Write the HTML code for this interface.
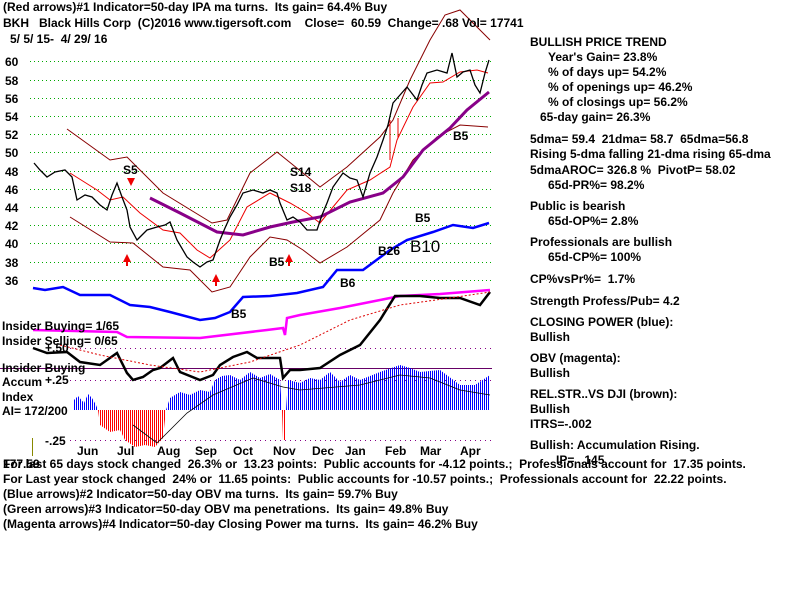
<!DOCTYPE html><html><head><style>
body{margin:0;background:#fff;width:800px;height:600px;overflow:hidden;font-family:"Liberation Sans",sans-serif;}
svg text{font-family:"Liberation Sans",sans-serif;font-size:12px;font-weight:bold;fill:#000;white-space:pre}
</style></head><body>
<svg width="800" height="600" xmlns="http://www.w3.org/2000/svg" xml:space="preserve">
<defs>
<pattern id="pb" x="0" y="0" width="2" height="4" patternUnits="userSpaceOnUse"><rect x="0" y="0" width="1" height="4" fill="#00f"/></pattern>
<pattern id="pr" x="0" y="0" width="2" height="4" patternUnits="userSpaceOnUse"><rect x="0" y="0" width="1" height="4" fill="#f00"/></pattern>
</defs>
<g stroke="#0a0" stroke-dasharray="1,3" stroke-width="1">
<line x1="30" x2="492" y1="61.5" y2="61.5"/><line x1="30" x2="492" y1="80.5" y2="80.5"/><line x1="30" x2="492" y1="98.5" y2="98.5"/><line x1="30" x2="492" y1="116.5" y2="116.5"/><line x1="30" x2="492" y1="134.5" y2="134.5"/><line x1="30" x2="492" y1="152.5" y2="152.5"/><line x1="30" x2="492" y1="171.5" y2="171.5"/><line x1="30" x2="492" y1="189.5" y2="189.5"/><line x1="30" x2="492" y1="207.5" y2="207.5"/><line x1="30" x2="492" y1="225.5" y2="225.5"/><line x1="30" x2="492" y1="243.5" y2="243.5"/><line x1="30" x2="492" y1="262.5" y2="262.5"/><line x1="30" x2="492" y1="280.5" y2="280.5"/>
</g>
<g stroke="#808" stroke-dasharray="1,4"><line x1="70" x2="492" y1="348.5" y2="348.5"/><line x1="70" x2="492" y1="380.5" y2="380.5"/><line x1="70" x2="492" y1="440.5" y2="440.5"/></g>
<line x1="0" x2="492" y1="368.5" y2="368.5" stroke="#606" stroke-width="1"/>
<polygon fill="url(#pb)" points="73,410 74,400 78,396 84,403 88,394 92,398 96,405 98,410"/>
<polygon fill="url(#pr)" points="98,410 100,425 110,432 120,430 125,440 135,447 145,445 155,447 163,438 166,410"/>
<polygon fill="url(#pb)" points="166,410 170,398 180,392 190,395 200,390 210,392 215,380 222,376 230,375 240,380 250,372 260,378 270,374 280,380 282,410"/>
<polygon fill="url(#pr)" points="282,410 283,440 286,440 286,410"/>
<polygon fill="url(#pb)" points="286,410 288,380 300,383 310,378 320,380 330,372 340,382 350,375 360,380 380,372 400,365 410,368 420,372 440,370 460,385 475,385 490,375 490,410"/>
<polyline fill="none" stroke="#000" stroke-width="0.8" points="133,425 157,443 187,413 213,395 253,378 283,387 300,390 360,385 400,375 430,378 460,390 490,395"/>
<g fill="none">
<polyline stroke="#800" stroke-width="1" points="67,129 110,160 127,157 163,193 212,223 227,220 250,173 277,152 303,173 320,187 347,167 380,137 393,120 410,80 430,40 445,15 460,10 480,30 490,40"/>
<polyline stroke="#800" stroke-width="1" points="70,217 110,242 133,243 163,267 190,270 212,292 230,287 250,257 270,237 287,240 303,250 320,263 347,247 380,220 393,193 413,160 437,137 460,125 488,127"/>
<polyline stroke="#e00" stroke-width="1" points="70,173 97,190 110,200 123,197 140,213 163,230 180,233 197,250 210,258 230,240 247,207 270,193 290,203 307,213 320,223 333,207 347,190 370,180 390,167 397,140 413,107 430,83 443,82 460,72 477,70 488,73"/>
<polyline stroke="#808" stroke-width="3" points="150,198 180,213 217,232 243,235 270,227 293,222 320,217 350,202 383,193 403,177 423,150 450,128 467,110 489,92"/>
<polyline stroke="#000" stroke-width="1.3" points="34,163 40,170 47,177 55,172 65,170 72,177 77,200 85,195 92,197 100,205 107,210 112,195 117,183 122,197 127,210 130,227 137,240 147,230 157,227 165,225 170,222 177,240 187,257 193,262 200,267 207,262 213,260 220,240 225,228 230,217 237,205 243,193 253,190 263,193 270,190 277,193 280,203 287,220 293,217 300,222 307,230 317,230 322,215 327,203 333,187 343,173 350,178 357,180 363,197 370,173 377,157 383,140 388,125 393,103 400,95 407,87 417,100 422,85 427,73 437,70 447,73 452,53 457,77 463,72 470,70 475,85 480,93 485,73 489,60"/>
<polyline stroke="#00f" stroke-width="2.5" points="33,288 45,290 63,287 80,295 110,295 130,305 150,307 170,312 200,320 215,318 230,312 243,297 270,296 297,293 323,287 337,270 363,270 390,250 407,240 433,232 453,225 473,228 489,223"/>
<polyline stroke="#f0f" stroke-width="2.5" points="33,330 117,332 127,337 200,338 267,330 283,328 285,335 287,318 300,315 340,308 380,300 400,296 440,294 490,290"/>
<polyline stroke="#000" stroke-width="2.5" points="33,348 47,353 67,352 80,362 100,365 117,353 127,373 133,380 143,377 153,370 160,368 173,358 180,372 200,380 213,375 220,365 233,357 247,352 257,358 280,358 283,378 290,370 300,370 320,368 340,355 360,345 380,320 395,296 420,296 440,298 460,298 480,305 490,292"/>
<polyline stroke="#d00" stroke-dasharray="2,2" points="60,345 100,355 150,365 200,372 250,362 300,345 350,320 400,305 450,298 490,292"/>
</g>
<g fill="#e00">
<path d="M123,262 l4,-8 4,8 h-3 v4 h-2 v-4z"/><path d="M212,282 l4,-8 4,8 h-3 v4 h-2 v-4z"/><path d="M285,262 l4,-8 4,8 h-3 v4 h-2 v-4z"/><path d="M127,178 l4,8 4,-8z"/><path d="M398,118 v20" stroke="#e00"/><path d="M390,120 v40" stroke="#e00"/>
</g>
<text x="123" y="174">S5</text><text x="290" y="176">S14</text><text x="290" y="192">S18</text><text x="415" y="222">B5</text><text x="453" y="140">B5</text><text x="269" y="266">B5</text><text x="231" y="318">B5</text><text x="378" y="255">B26</text><text x="410" y="252" style="font-size:17px;font-weight:normal">B10</text><text x="340" y="287">B6</text>
<text x="3" y="11">(Red arrows)#1 Indicator=50-day IPA ma turns.  Its gain= 64.4% Buy</text>
<text x="3" y="27">BKH   Black Hills Corp  (C)2016 www.tigersoft.com    Close=  60.59  Change= .68 Vol= 17741</text>
<text x="10" y="43">5/ 5/ 15-  4/ 29/ 16</text>
<g><text x="5" y="66">60</text><text x="5" y="85">58</text><text x="5" y="103">56</text><text x="5" y="121">54</text><text x="5" y="139">52</text><text x="5" y="157">50</text><text x="5" y="176">48</text><text x="5" y="194">46</text><text x="5" y="212">44</text><text x="5" y="230">42</text><text x="5" y="248">40</text><text x="5" y="267">38</text><text x="5" y="285">36</text></g>
<text x="2" y="330">Insider Buying= 1/65</text><text x="2" y="345">Insider Selling= 0/65</text><text x="45" y="352">+.50</text>
<text x="2" y="372">Insider Buying</text><text x="2" y="386">Accum</text><text x="45" y="384">+.25</text><text x="2" y="401">Index</text><text x="2" y="415">AI= 172/200</text><text x="45" y="445">-.25</text>
<line x1="32.5" y1="438" x2="32.5" y2="456" stroke="#880"/>
<text x="77" y="455">Jun</text><text x="117" y="455">Jul</text><text x="157" y="455">Aug</text><text x="195" y="455">Sep</text><text x="233" y="455">Oct</text><text x="273" y="455">Nov</text><text x="312" y="455">Dec</text><text x="345" y="455">Jan</text><text x="385" y="455">Feb</text><text x="420" y="455">Mar</text><text x="460" y="455">Apr</text>
<text x="3" y="468">177.59</text>
<text x="3" y="468">For last 65 days stock changed  26.3% or  13.23 points:  Public accounts for -4.12 points.;  Professionals account for  17.35 points.</text>
<text x="3" y="483">For Last year stock changed  24% or  11.65 points:  Public accounts for -10.57 points.;  Professionals account for  22.22 points.</text>
<text x="3" y="498">(Blue arrows)#2 Indicator=50-day OBV ma turns.  Its gain= 59.7% Buy</text>
<text x="3" y="513">(Green arrows)#3 Indicator=50-day OBV ma penetrations.  Its gain= 49.8% Buy</text>
<text x="3" y="528">(Magenta arrows)#4 Indicator=50-day Closing Power ma turns.  Its gain= 46.2% Buy</text>
<text x="530" y="46">BULLISH PRICE TREND</text><text x="548" y="61">Year's Gain= 23.8%</text><text x="548" y="76">% of days up= 54.2%</text><text x="548" y="91">% of openings up= 46.2%</text><text x="548" y="106">% of closings up= 56.2%</text><text x="540" y="121">65-day gain= 26.3%</text>
<text x="530" y="143">5dma= 59.4  21dma= 58.7  65dma=56.8</text><text x="530" y="158">Rising 5-dma falling 21-dma rising 65-dma</text><text x="530" y="174">5dmaAROC= 326.8 %  PivotP= 58.02</text><text x="548" y="189">65d-PR%= 98.2%</text>
<text x="530" y="210">Public is bearish</text><text x="548" y="225">65d-OP%= 2.8%</text><text x="530" y="246">Professionals are bullish</text><text x="548" y="261">65d-CP%= 100%</text>
<text x="530" y="283">CP%vsPr%=  1.7%</text><text x="530" y="305">Strength Profess/Pub= 4.2</text><text x="530" y="326">CLOSING POWER (blue):</text><text x="530" y="341">Bullish</text>
<text x="530" y="362">OBV (magenta):</text><text x="530" y="377">Bullish</text><text x="530" y="398">REL.STR..VS DJI (brown):</text><text x="530" y="413">Bullish</text><text x="530" y="428">ITRS=-.002</text>
<text x="530" y="449">Bullish: Accumulation Rising.</text><text x="556" y="464">IP=  .145</text>
</svg>
</body></html>
